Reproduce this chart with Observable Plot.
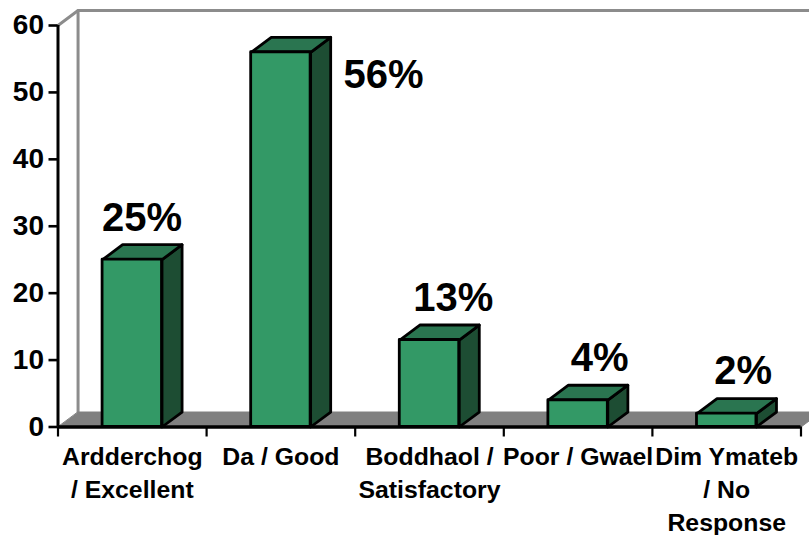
<!DOCTYPE html>
<html>
<head>
<meta charset="utf-8">
<style>html,body{margin:0;padding:0;background:#fff}</style>
<script src="https://cdn.jsdelivr.net/npm/d3@7"></script>
<script src="https://cdn.jsdelivr.net/npm/@observablehq/plot@0.6"></script>
</head>
<body>
<div id="chart"></div>
<script>
// Survey responses by rating (percent of respondents)
const categories = [
  "Ardderchog\n/ Excellent",
  "Da / Good",
  "Boddhaol /\nSatisfactory",
  "Poor / Gwael",
  "Dim Ymateb\n/ No\nResponse"
];
const values = [25, 56, 13, 4, 2];
const yTicks = [0, 10, 20, 30, 40, 50, 60];
const xTicks = [0, 1, 2, 3, 4, 5];

// Oblique depth of the 3-D box, expressed in scale units
const depthX = 0.135;
const depthY = 2.24;
const halfBar = 0.2;
const yMax = 60;

const bars = categories.map((name, i) => ({name, value: values[i], slot: i + 0.5}));
const face = (b, corners) => corners.map(([x, y]) => ({id: b.name, x, y}));
const topFaces = bars.flatMap(b => face(b, [
  [b.slot - halfBar, b.value],
  [b.slot + halfBar, b.value],
  [b.slot + halfBar + depthX, b.value + depthY],
  [b.slot - halfBar + depthX, b.value + depthY]
]));
const sideFaces = bars.flatMap(b => face(b, [
  [b.slot + halfBar, 0],
  [b.slot + halfBar, b.value],
  [b.slot + halfBar + depthX, b.value + depthY],
  [b.slot + halfBar + depthX, depthY]
]));
const floor = [
  {x: 0, y: 0}, {x: 5, y: 0},
  {x: 5 + depthX, y: depthY}, {x: depthX, y: depthY}
];
const wall = [
  {x: 0, y: yMax}, {x: depthX, y: yMax + depthY}, {x: 5 + depthX, y: yMax + depthY}
];
const wallEdge = [
  {x: depthX, y: depthY}, {x: depthX, y: yMax + depthY}
];

const ink = "#000";
const peak = d3.max(values);
const edge = {stroke: ink, strokeWidth: 2.8, strokeLinejoin: "round"};

// Sideways nudge of each value label, in slots, so it clears its box
const labelShift = new Map([[25, 0.065], [56, 0.69], [13, 0.16], [4, 0.145], [2, 0.11]]);
const labelX = d => d.slot + labelShift.get(d.value);

const chart = Plot.plot({
  width: 809,
  height: 535,
  marginLeft: 57.5,
  marginRight: 8.5,
  marginTop: 25,
  marginBottom: 108.5,
  style: {fontFamily: "'Liberation Sans', Arial, sans-serif", background: "#fff", color: ink},
  x: {domain: [0, 5], label: null},
  y: {domain: [0, yMax], label: null},
  marks: [
    // Back wall and floor
    Plot.line(wall, {x: "x", y: "y", stroke: "#8c8c8c", strokeWidth: 3}),
    Plot.line(wallEdge, {x: "x", y: "y", stroke: "#8c8c8c", strokeWidth: 3}),
    Plot.line(floor, {x: "x", y: "y", curve: "linear-closed", fill: "#808080", stroke: "#808080", strokeWidth: 1}),

    // Box faces
    Plot.line(sideFaces, {x: "x", y: "y", z: "id", curve: "linear-closed", fill: "#1d4d33", ...edge}),
    Plot.line(topFaces, {x: "x", y: "y", z: "id", curve: "linear-closed", fill: "#2a7550", ...edge}),
    Plot.rect(bars, {x1: d => d.slot - halfBar, x2: d => d.slot + halfBar, y1: 0, y2: "value", fill: "#339966", ...edge}),

    // Axes
    Plot.ruleX([0], {y1: 0, y2: yMax, stroke: ink, strokeWidth: 3}),
    Plot.ruleY([0], {x1: 0, x2: 5, stroke: ink, strokeWidth: 3.5}),
    Plot.axisY({ticks: yTicks, tickSize: 9, tickPadding: 5, strokeWidth: 2.6, fontSize: 28, fontWeight: "bold", label: null, fill: ink}),
    Plot.axisX({ticks: xTicks, tickSize: 10, strokeWidth: 2.2, tickFormat: () => "", label: null}),

    // Category labels
    Plot.text(bars, {x: "slot", y: 0, text: "name", dy: 14.5, lineAnchor: "top", fontSize: 24.8, fontWeight: "bold", lineHeight: 1.33, fill: ink}),

    // Value labels: above each box, except the tallest which sits beside it
    Plot.text(bars.filter(d => d.value < peak), {x: labelX, y: "value", text: d => d.value + "%", dy: -42, fontSize: 40, fontWeight: "bold", fill: ink}),
    Plot.text(bars.filter(d => d.value === peak), {x: labelX, y: "value", text: d => d.value + "%", dy: 23, fontSize: 40, fontWeight: "bold", fill: ink})
  ]
});
document.getElementById("chart").append(chart);
</script>
</body>
</html>
